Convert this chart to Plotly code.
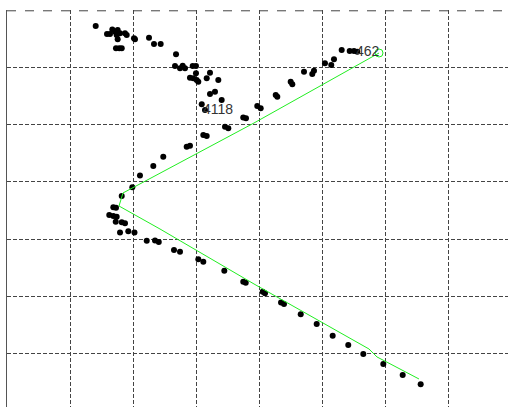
import plotly.graph_objects as go

# Measured trajectory samples
x_pts = [
    1.405, 1.584, 1.631, 1.668, 1.711, 1.753, 1.737, 1.753, 1.790, 1.869, 1.896,
    1.726, 1.779, 1.817, 2.011, 2.027, 2.249, 2.328, 2.434, 2.677,
    2.661, 2.740, 2.783, 2.819, 2.941, 2.993, 2.993, 2.898, 2.951, 3.004, 3.030,
    3.163, 3.215, 3.347, 3.215, 3.294, 3.400, 3.084, 3.136,
    3.742, 3.785, 3.453, 3.505, 3.109, 3.163, 2.846, 2.898, 2.475, 2.317, 2.106,
    1.985, 1.817, 1.684, 1.726, 1.620, 1.684, 1.737, 1.722, 1.817, 1.869,
    1.790, 1.921, 2.019, 2.213, 2.344, 2.404, 2.645, 2.740, 3.030, 3.109,
    3.442, 3.742, 3.781, 4.050, 4.086, 4.340, 4.387, 4.652, 4.905, 5.158,
    5.405, 5.643, 5.960, 6.267, 6.552,
    3.964, 4.018, 4.256, 4.281, 4.493, 4.519, 4.704, 4.835, 4.862,
    5.036, 5.136, 5.179, 5.301, 5.428, 5.496, 5.548,
]
y_pts = [
    6.721, 6.581, 6.581, 6.660, 6.622, 6.651, 6.564, 6.489, 6.594, 6.594, 6.564,
    6.332, 6.332, 6.332, 6.506, 6.489, 6.517, 6.407, 6.407, 6.227,
    6.023, 5.983, 6.029, 5.983, 6.023, 6.023, 5.896, 5.819, 5.809, 5.779, 5.749,
    5.809, 5.906, 5.779, 5.535, 5.575, 5.430, 5.355, 5.256,
    5.125, 5.111, 4.965, 4.937, 4.820, 4.802, 4.616, 4.633, 4.441, 4.279, 4.113,
    3.908, 3.756, 3.559, 3.552, 3.424, 3.407, 3.395, 3.308, 3.297, 3.280,
    3.119, 3.140, 3.119, 2.976, 2.980, 2.954, 2.814, 2.784, 2.652, 2.610,
    2.453, 2.261, 2.244, 2.087, 2.059, 1.898, 1.872, 1.693, 1.523, 1.319,
    1.157, 1.000, 0.826, 0.634, 0.472,
    5.326, 5.285, 5.517, 5.488, 5.749, 5.704, 5.924, 5.884, 5.941,
    6.070, 6.041, 6.140, 6.302, 6.285, 6.285, 6.273,
]

# Fitted path through the samples
fit_x = [5.892, 3.912, 1.837, 1.774, 2.423, 3.912, 5.733, 5.860, 6.525]
fit_y = [6.250, 5.029, 3.808, 3.581, 3.180, 2.221, 1.087, 0.948, 0.564]

# Sample index labels
label_text = ["4118", "462"]
label_x = [3.065, 5.500]
label_y = [5.270, 6.285]

fig = go.Figure()

fig.add_trace(go.Scatter(
    x=x_pts, y=y_pts, mode="markers",
    marker=dict(color="black", size=6, line=dict(width=0)),
    hoverinfo="skip",
))

fig.add_trace(go.Scatter(
    x=fit_x, y=fit_y, mode="lines",
    line=dict(color="#22ee22", width=1),
    hoverinfo="skip",
))

# Open circle at the start of the fitted path
fig.add_trace(go.Scatter(
    x=fit_x[:1], y=fit_y[:1], mode="markers",
    marker=dict(symbol="circle-open", color="#22ee22", size=8, line=dict(width=1)),
    hoverinfo="skip",
))

for t, lx, ly in zip(label_text, label_x, label_y):
    fig.add_annotation(
        x=lx, y=ly, text=t, showarrow=False,
        xanchor="left", yanchor="middle",
        font=dict(family="Liberation Sans, Arial", size=14, color="#333333"),
    )

GRID_COLOR = "#444444"
GRID_DASH = "4px,2px"

# Frame edge along the top, dashed like the grid
fig.add_shape(
    type="line", xref="paper", yref="paper", x0=0, x1=1, y0=0.998, y1=0.998,
    line=dict(color=GRID_COLOR, width=1, dash="dash"), layer="above",
)

grid_style = dict(
    showgrid=True, gridcolor=GRID_COLOR, gridwidth=1, griddash=GRID_DASH,
    zeroline=False, showticklabels=False, ticks="", dtick=1, tick0=0,
)

fig.update_layout(
    width=508, height=407,
    margin=dict(l=7, r=0, t=10, b=0),
    paper_bgcolor="white", plot_bgcolor="white",
    showlegend=False,
    xaxis=dict(range=[0.0, 7.935], showline=False, **grid_style),
    yaxis=dict(range=[0.075, 7.0], showline=True, linecolor="#555555",
               linewidth=1, **grid_style),
)

fig.write_html("out.html")
